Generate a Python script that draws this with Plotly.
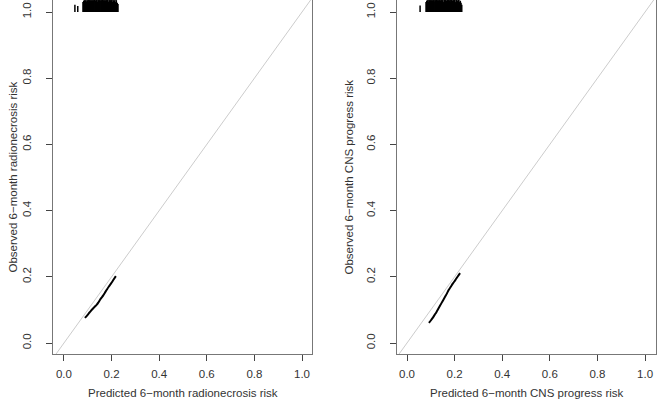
import plotly.graph_objects as go

# ---- data ----
rn_pred_curve = [0.088, 0.097, 0.105, 0.114, 0.123, 0.131, 0.138, 0.145, 0.151, 0.158, 0.165,
                 0.172, 0.179, 0.188, 0.198, 0.208, 0.218]
rn_obs_curve = [0.076, 0.083, 0.090, 0.098, 0.105, 0.111, 0.116, 0.123, 0.130, 0.137, 0.144,
                0.152, 0.160, 0.170, 0.180, 0.191, 0.202]
cns_pred_curve = [0.092, 0.100, 0.108, 0.116, 0.124, 0.132, 0.139, 0.146, 0.153, 0.161, 0.168,
                  0.175, 0.183, 0.193, 0.203, 0.213, 0.223]
cns_obs_curve = [0.061, 0.068, 0.076, 0.085, 0.094, 0.104, 0.113, 0.122, 0.131, 0.141, 0.150,
                 0.160, 0.169, 0.180, 0.190, 0.201, 0.211]

rn_rug = [0.046, 0.058, 0.080, 0.083, 0.086, 0.089, 0.091, 0.094, 0.097, 0.099, 0.102,
          0.105, 0.108, 0.110, 0.113, 0.116, 0.119, 0.121, 0.124, 0.127, 0.130, 0.132,
          0.135, 0.138, 0.141, 0.143, 0.146, 0.149, 0.152, 0.155, 0.157, 0.160, 0.163,
          0.166, 0.168, 0.171, 0.174, 0.177, 0.180, 0.182, 0.185, 0.188, 0.191, 0.194,
          0.196, 0.199, 0.202, 0.205, 0.208, 0.211, 0.214, 0.217, 0.220, 0.224, 0.227]
rn_rug_h = [0.022, 0.018, 0.030, 0.034, 0.036, 0.028, 0.036, 0.032, 0.036, 0.034, 0.036,
            0.030, 0.036, 0.036, 0.033, 0.036, 0.036, 0.030, 0.036, 0.036, 0.036, 0.034,
            0.036, 0.036, 0.031, 0.036, 0.036, 0.036, 0.036, 0.033, 0.036, 0.036, 0.036,
            0.036, 0.030, 0.036, 0.036, 0.033, 0.036, 0.036, 0.036, 0.031, 0.036, 0.036,
            0.034, 0.036, 0.036, 0.030, 0.036, 0.033, 0.036, 0.030, 0.036, 0.028, 0.024]
cns_rug = [0.055, 0.080, 0.083, 0.086, 0.089, 0.092, 0.094, 0.097, 0.100, 0.103, 0.106,
           0.108, 0.111, 0.114, 0.117, 0.119, 0.122, 0.125, 0.128, 0.131, 0.133, 0.136,
           0.139, 0.142, 0.144, 0.147, 0.150, 0.153, 0.156, 0.158, 0.161, 0.164, 0.167,
           0.170, 0.172, 0.175, 0.178, 0.181, 0.184, 0.186, 0.189, 0.192, 0.195, 0.198,
           0.200, 0.203, 0.206, 0.209, 0.212, 0.215, 0.218, 0.221, 0.224, 0.227, 0.230]
cns_rug_h = [0.020, 0.030, 0.034, 0.036, 0.030, 0.036, 0.036, 0.033, 0.036, 0.036, 0.030,
             0.036, 0.036, 0.036, 0.032, 0.036, 0.036, 0.036, 0.036, 0.031, 0.036, 0.036,
             0.036, 0.034, 0.036, 0.036, 0.036, 0.030, 0.036, 0.036, 0.036, 0.036, 0.033,
             0.036, 0.036, 0.036, 0.036, 0.031, 0.036, 0.036, 0.036, 0.034, 0.036, 0.036,
             0.036, 0.030, 0.036, 0.036, 0.033, 0.036, 0.036, 0.030, 0.034, 0.028, 0.022]

tick_vals = [0.0, 0.2, 0.4, 0.6, 0.8, 1.0]
tick_text = ["0.0", "0.2", "0.4", "0.6", "0.8", "1.0"]
x_titles = ["Predicted 6\u2212month radionecrosis risk", "Predicted 6\u2212month CNS progress risk"]
y_titles = ["Observed 6\u2212month radionecrosis risk", "Observed 6\u2212month CNS progress risk"]

W, H = 657, 409
FONT = "Liberation Sans, Arial, sans-serif"
fig = go.Figure()

panels = [
    (rn_pred_curve, rn_obs_curve, rn_rug, rn_rug_h, "x", "y"),
    (cns_pred_curve, cns_obs_curve, cns_rug, cns_rug_h, "x2", "y2"),
]
for pred, obs, rug, rugh, xa, ya in panels:
    # diagonal reference line
    fig.add_trace(go.Scatter(x=[-0.1, 1.1], y=[-0.1, 1.1], mode="lines",
                             line=dict(color="#cccccc", width=1), xaxis=xa, yaxis=ya,
                             hoverinfo="skip", showlegend=False))
    # calibration curve
    fig.add_trace(go.Scatter(x=pred, y=obs, mode="lines",
                             line=dict(color="black", width=2, shape="spline"),
                             xaxis=xa, yaxis=ya, showlegend=False))
    # rug of predictions at top
    rx, ry = [], []
    for v, h in zip(rug, rugh):
        rx += [v, v, None]
        ry += [1.0, 1.0 + h, None]
    fig.add_trace(go.Scatter(x=rx, y=ry, mode="lines",
                             line=dict(color="black", width=1.5), xaxis=xa, yaxis=ya,
                             hoverinfo="skip", showlegend=False))

ydom = [55 / H, 1.0]
yr = [-0.0332, 1.0363]
xdoms = [[53 / W, 312 / W], [397 / W, 656 / W]]
common_axis = dict(
    tickmode="array", tickvals=tick_vals, ticktext=tick_text,
    showgrid=False, zeroline=False, showline=True, mirror=True,
    linecolor="#777777", linewidth=1, ticks="outside", ticklen=6,
    tickcolor="#444444", tickfont=dict(family=FONT, size=11.5, color="#333333"),
)
fig.update_layout(
    width=W, height=H, margin=dict(l=0, r=0, t=0, b=0),
    paper_bgcolor="white", plot_bgcolor="white",
    xaxis=dict(domain=xdoms[0], range=[-0.046, 1.042], anchor="y",
               ticklabelstandoff=3, **common_axis),
    yaxis=dict(domain=ydom, range=yr, anchor="x", tickangle=-90,
               ticklabelstandoff=10, **common_axis),
    xaxis2=dict(domain=xdoms[1], range=[-0.042, 1.046], anchor="y2",
                ticklabelstandoff=3, **common_axis),
    yaxis2=dict(domain=ydom, range=yr, anchor="x2", tickangle=-90,
                ticklabelstandoff=10, **common_axis),
)

title_font = dict(family=FONT, size=11.5, color="#333333")
xt_centers = [(53 + 312) / 2 / W, (397 + 656) / 2 / W]
yt_x = [12 / W, 348 / W]
for i in range(2):
    fig.add_annotation(text=x_titles[i], xref="paper", yref="paper",
                       x=xt_centers[i], y=(H - 393) / H, showarrow=False,
                       font=title_font, xanchor="center", yanchor="middle")
    fig.add_annotation(text=y_titles[i], xref="paper", yref="paper",
                       x=yt_x[i], y=(H - (12 + 343) / 2) / H, showarrow=False,
                       font=title_font, textangle=-90, xanchor="center", yanchor="middle")

fig.write_html("out.html")
